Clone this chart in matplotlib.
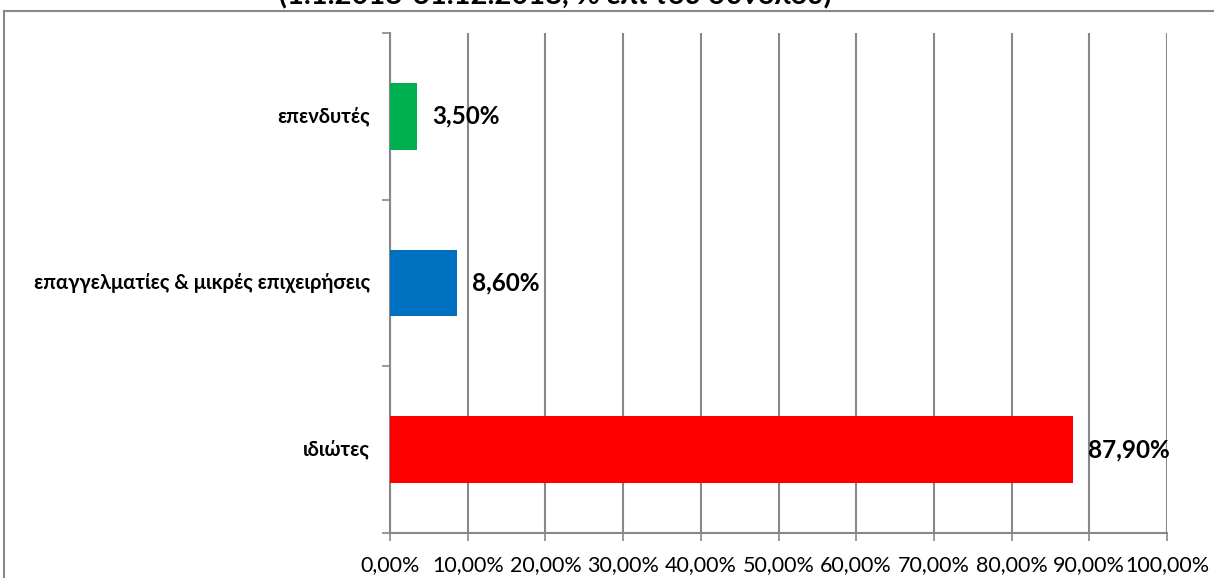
import matplotlib.pyplot as plt
from matplotlib.lines import Line2D

# data
categories = ['ιδιώτες', 'επαγγελματίες & μικρές επιχειρήσεις', 'επενδυτές']
values = [87.9, 8.6, 3.5]
value_labels = ['87,90%', '8,60%', '3,50%']
colors = ['#FF0000', '#0070C0', '#00B050']
xticks = [0, 10, 20, 30, 40, 50, 60, 70, 80, 90, 100]
xtick_labels = ['0,00%', '10,00%', '20,00%', '30,00%', '40,00%', '50,00%',
                '60,00%', '70,00%', '80,00%', '90,00%', '100,00%']
title = '(1.1.2018-31.12.2018, % επί του συνόλου)'

plt.rcParams['font.family'] = ['Lato', 'DejaVu Sans']

W, H = 1214, 578
fig = plt.figure(figsize=(W / 100, H / 100), dpi=100)
ax = fig.add_axes([390 / W, (H - 533) / H, (1167 - 390) / W, (533 - 33) / H])

y = range(len(categories))
ax.barh(y, values, height=0.4, color=colors, zorder=3)
for i, v in enumerate(values):
    ax.annotate(value_labels[i], (v, i), xytext=(11, 0), textcoords='offset points',
                va='center', ha='left', fontsize=17.5, fontweight='bold', color='black')

ax.set_xlim(0, 100)
ax.set_ylim(-0.5, 2.5)
ax.set_xticks(xticks)
ax.set_xticklabels(xtick_labels, fontsize=15.5)
ax.set_yticks([-0.5, 0.5, 1.5, 2.5])
ax.set_yticklabels([])
ax.tick_params(axis='y', length=6, color='#888888', width=1.2)
ax.tick_params(axis='x', length=6, color='#888888', width=1.2, pad=10)
for i, c in enumerate(categories):
    ax.text(-0.026, i, c, transform=ax.get_yaxis_transform(), ha='right', va='center',
            fontsize=14.5, fontweight='bold')

ax.grid(axis='x', color='#888888', linewidth=1.5, zorder=0)
for s in ['top', 'right']:
    ax.spines[s].set_visible(False)
ax.spines['left'].set_color('#888888')
ax.spines['bottom'].set_color('#888888')
ax.spines['left'].set_linewidth(1.5)
ax.spines['bottom'].set_linewidth(1.5)

# outer frame (chart area border)
fig.add_artist(Line2D([4 / W, 1], [1 - 11 / H, 1 - 11 / H], color='#888888', linewidth=1.5))
fig.add_artist(Line2D([4 / W, 4 / W], [0, 1 - 11 / H], color='#888888', linewidth=1.5))

fig.text(555 / W, 1 - 4 / H, title, ha='center', va='baseline', fontsize=21, fontweight='bold')

fig.savefig('out.png', dpi=100)
